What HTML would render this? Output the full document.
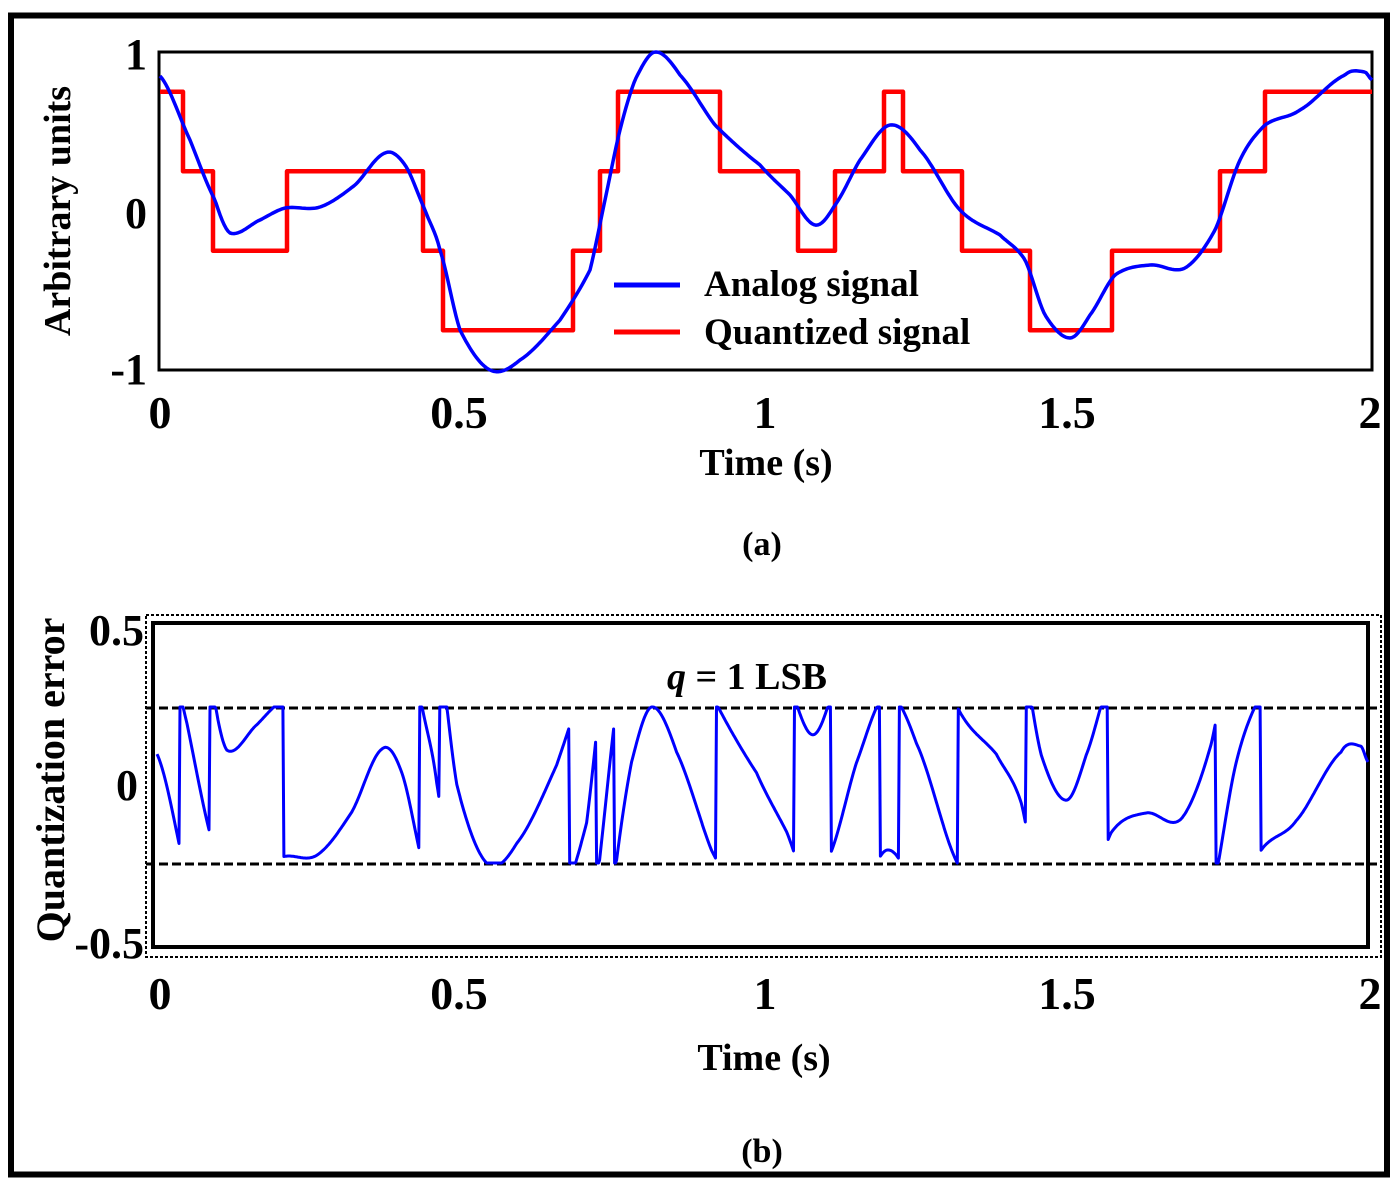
<!DOCTYPE html>
<html><head><meta charset="utf-8"><style>
body{margin:0;background:#fff}
svg text{font-family:"Liberation Serif",serif;font-weight:bold;fill:#000}
</style></head><body>
<svg id="s" width="1400" height="1189" viewBox="0 0 1400 1189" xmlns="http://www.w3.org/2000/svg">
<rect x="0" y="0" width="1400" height="1189" fill="#fff"/>
<rect x="11" y="15.5" width="1376" height="1159" fill="none" stroke="#000" stroke-width="6"/>
<rect x="159" y="52" width="1213" height="318" fill="none" stroke="#000" stroke-width="3"/>
<g id="top"></g>
<g font-size="44" text-anchor="end">
<text x="147" y="69">1</text><text x="147" y="228">0</text><text x="147" y="384">-1</text>
</g>
<g font-size="46" text-anchor="middle">
<text x="160" y="428">0</text><text x="459" y="428">0.5</text><text x="765" y="428">1</text><text x="1067" y="428">1.5</text><text x="1370" y="428">2</text>
</g>
<text x="766" y="475" font-size="38" text-anchor="middle">Time (s)</text>
<text x="762" y="555" font-size="34" text-anchor="middle">(a)</text>
<text transform="translate(70,211) rotate(-90)" font-size="38" text-anchor="middle">Arbitrary units</text>
<line x1="614" y1="285" x2="680" y2="285" stroke="#00f" stroke-width="5"/>
<line x1="614" y1="332" x2="680" y2="332" stroke="#f00" stroke-width="5"/>
<text x="704" y="296" font-size="37">Analog signal</text>
<text x="704" y="344" font-size="37">Quantized signal</text>
<rect x="146" y="615" width="1235" height="342" fill="none" stroke="#000" stroke-width="2" stroke-dasharray="3,2"/>
<rect x="153" y="623" width="1215" height="324" fill="none" stroke="#000" stroke-width="4"/>
<line x1="146" y1="708" x2="1381" y2="708" stroke="#000" stroke-width="3" stroke-dasharray="9,4"/>
<line x1="146" y1="864" x2="1381" y2="864" stroke="#000" stroke-width="3" stroke-dasharray="9,4"/>
<g id="bot"></g>
<g font-size="44" text-anchor="end">
<text x="144" y="645">0.5</text><text x="138" y="800">0</text><text x="144" y="958">-0.5</text>
</g>
<g font-size="46" text-anchor="middle">
<text x="160" y="1009">0</text><text x="459" y="1009">0.5</text><text x="765" y="1009">1</text><text x="1067" y="1009">1.5</text><text x="1370" y="1009">2</text>
</g>
<text x="764" y="1070" font-size="38" text-anchor="middle">Time (s)</text>
<text x="762" y="1162" font-size="34" text-anchor="middle">(b)</text>
<text x="747" y="689" font-size="38" text-anchor="middle"><tspan font-style="italic">q</tspan> = 1 LSB</text>
<text transform="translate(64,780) rotate(-90)" font-size="40" text-anchor="middle">Quantization error</text>
</svg>
<script>
var P=[[160,76],[190,140],[215,200],[230,233],[260,220],[285,208],[320,207],[355,185],[385,153],[405,165],[425,210],[440,250],[460,330],[490,370],[520,360],[560,320],[590,270],[605,200],[620,130],[635,80],[655,52],[680,75],[715,125],[760,165],[790,195],[815,225],[835,205],[860,160],[890,125],[920,150],[960,210],[1000,235],[1025,260],[1045,315],[1070,338],[1090,315],[1115,275],[1150,265],[1185,268],[1215,230],[1240,160],[1265,125],[1300,110],[1345,75],[1365,72],[1372,80]];
function Y(x){for(var i=0;i<P.length-1;i++){if(x<=P[i+1][0]){var a=P[Math.max(i-1,0)],b=P[i],c=P[i+1],d=P[Math.min(i+2,P.length-1)];var t=(x-b[0])/(c[0]-b[0]);var m1=(c[1]-a[1])/2,m2=(d[1]-b[1])/2;var t2=t*t,t3=t2*t;return (2*t3-3*t2+1)*b[1]+(t3-2*t2+t)*m1+(-2*t3+3*t2)*c[1]+(t3-t2)*m2;}}return P[P.length-1][1];}
var S=[[183,.75],[213,.25],[287,-.25],[423,.25],[443,-.25],[573,-.75],[600,-.25],[618,.25],[720,.75],[798,.25],[835,-.25],[884,.25],[903,.75],[962,.25],[1030,-.25],[1112,-.75],[1220,-.25],[1265,.25],[1372,.75]];
function Q(x){for(var i=0;i<S.length;i++)if(x<S[i][0])return S[i][1];return .75;}
var ns="http://www.w3.org/2000/svg";
function path(g,d,c,w){var p=document.createElementNS(ns,"path");p.setAttribute("d",d);p.setAttribute("fill","none");p.setAttribute("stroke",c);p.setAttribute("stroke-width",w);p.setAttribute("stroke-linejoin","round");document.getElementById(g).appendChild(p);}
var d="";for(var x=160;x<=1372;x+=2){d+=(x==160?"M":"L")+x+","+Y(x).toFixed(1);}
var qd="M160,"+(211-159*.75);
for(var i=0;i<S.length;i++){qd+="L"+S[i][0]+","+(211-159*S[i][1]).toFixed(1);if(i+1<S.length)qd+="L"+S[i][0]+","+(211-159*S[i+1][1]).toFixed(1);}
path("top",qd,"#f00",4.5);
path("top",d,"#00f",3.5);
var ed="";
for(var x=160;x<=1372;x+=1){var a=(211-Y(x))/159,q=Q(x),e=a-q;e=Math.max(-.25,Math.min(.25,e));var bx=157+(x-160)*(1368-157)/(1372-160);ed+=(x==160?"M":"L")+bx.toFixed(1)+","+(785-312*e).toFixed(1);}
path("bot",ed,"#00f",3);
</script>
</body></html>
